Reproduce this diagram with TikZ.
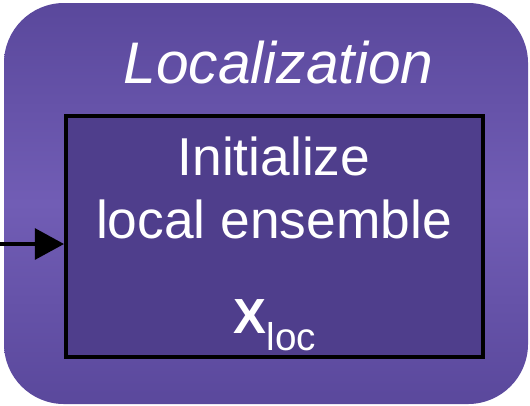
\documentclass[tikz,border=0pt]{standalone}
\usepackage{fontspec}
\setmainfont{Liberation Sans}
\usepackage{tikz}
\usetikzlibrary{arrows.meta}
\definecolor{locdark}{RGB}{90,72,156}
\definecolor{loclight}{RGB}{113,93,181}
\definecolor{locinner}{RGB}{79,62,140}
\tikzset{
    outerbox/.style={draw=none, rounded corners=45pt, top color=locdark, bottom color=locdark, middle color=loclight, minimum width=393pt, minimum height=300.75pt, inner sep=0pt},
    innerbox/.style={draw=black, line width=2.6pt, fill=locinner, minimum width=313pt, minimum height=181pt, inner sep=0pt},
    whitetext/.style={text=white, inner sep=0pt, anchor=base},
    feedarrow/.style={line width=3.4pt, -{Triangle[length=22pt, width=23pt]}}
}

\begin{document}
\begin{tikzpicture}[x=0.75pt,y=0.75pt,yscale=-1,xscale=1]
        \useasboundingbox (0,0) rectangle (530,405);

        % Outer box
        \node [outerbox] (locbox) at (266,203.5) {};
        % Inner box
        \node [innerbox] (initbox) at (274.5,236.5) {};

        % Text Node
        \node [whitetext, font=\fontsize{44}{52}\selectfont\itshape] (title) at (278.5,83) {Localization};
        % Text Node
        \node [whitetext, font=\fontsize{40}{48}\selectfont] (initA) at (274,175) {Initialize};
        \node [whitetext, font=\fontsize{40}{48}\selectfont] (initB) at (274,238) {local ensemble};
        % Text Node
        \node [whitetext, font=\fontsize{37}{44}\selectfont] (xloc) at (275,333) {\textbf{X}\raisebox{-12.75pt}{\fontsize{29}{35}\selectfont loc}};

        % Straight Lines
        \coordinate (feed) at (0,244);
        \draw [feedarrow] (feed) -- (feed -| initbox.west);
    \end{tikzpicture}
\end{document}
